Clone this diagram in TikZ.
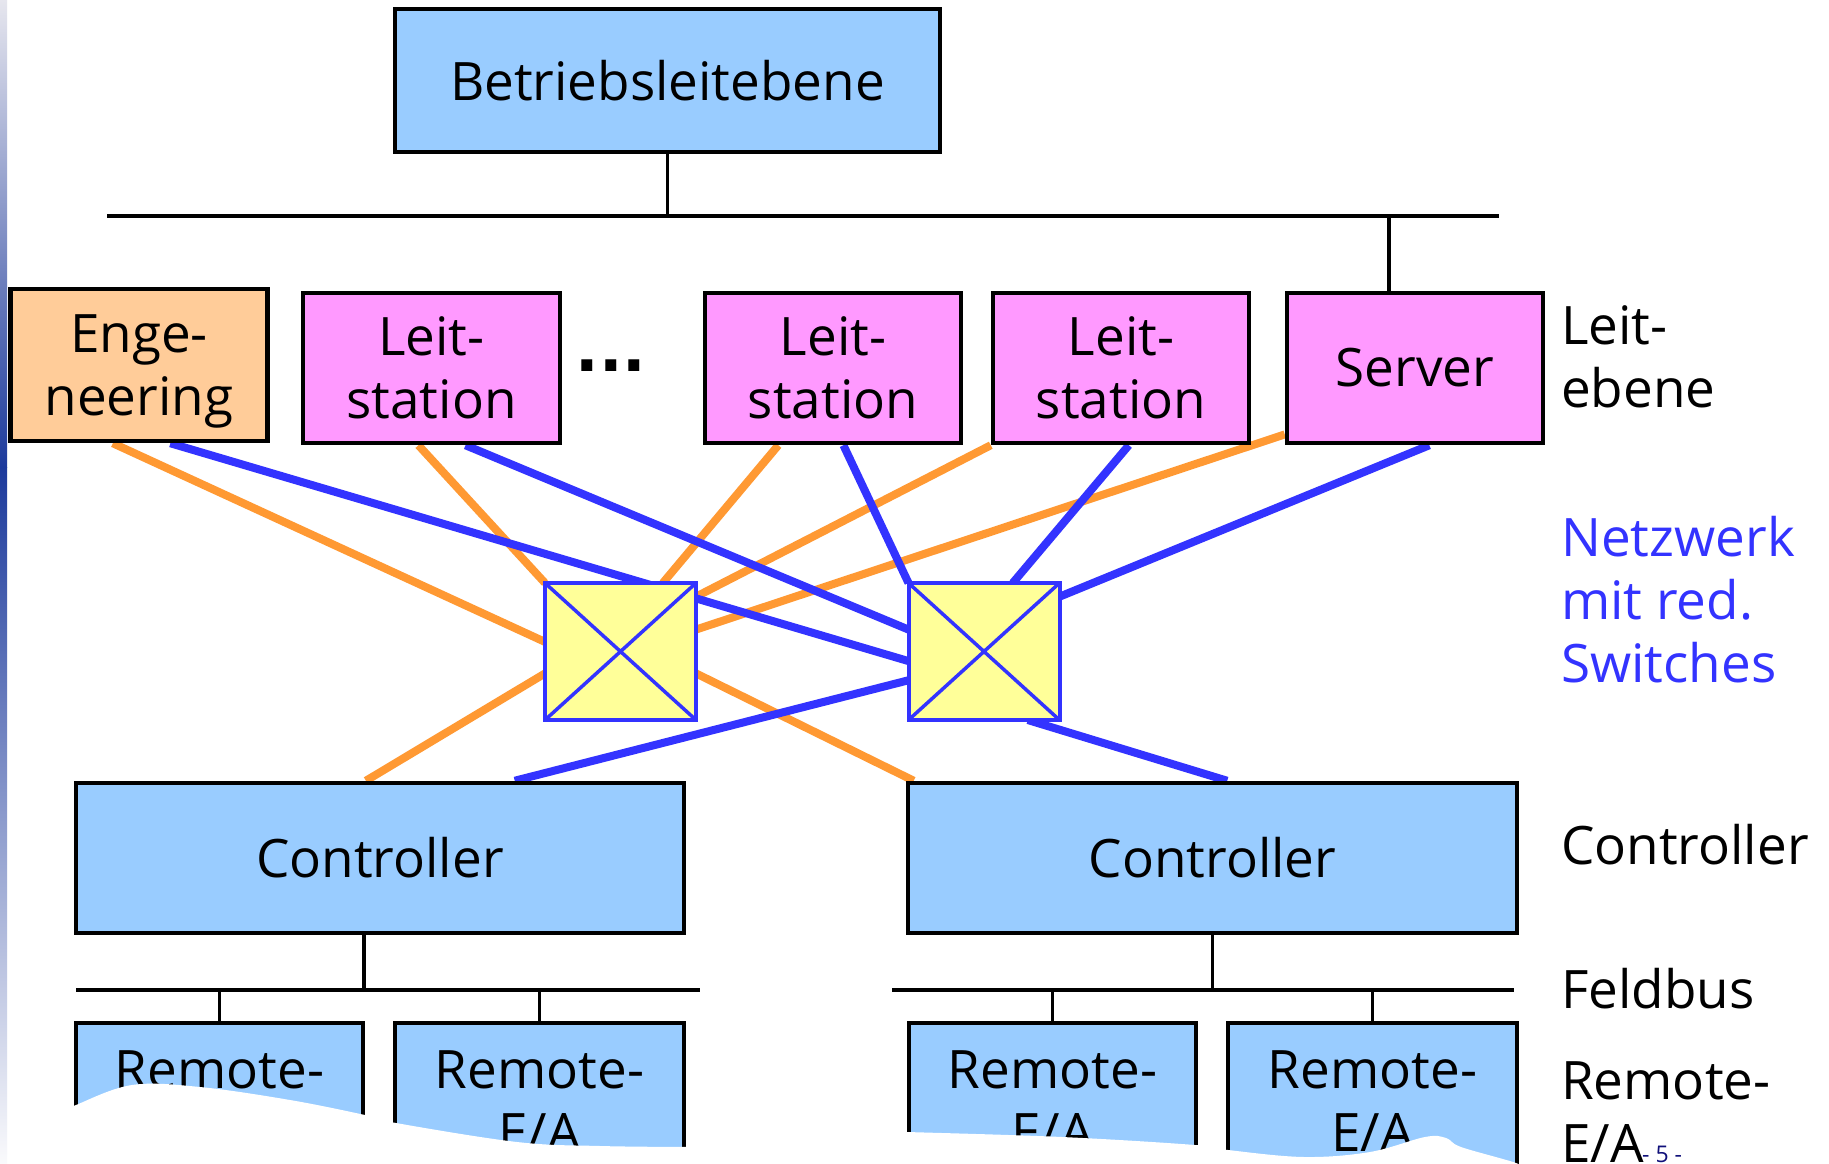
\documentclass[tikz,border=0pt]{standalone}
\usepackage{fontspec}
\setmainfont{Open Sans}
\newfontfamily\dotfont{DejaVu Sans}
\usetikzlibrary{calc,backgrounds}
\pgfdeclarelayer{bottom}
\pgfsetlayers{bottom,background,main}
\definecolor{lblue}{HTML}{99CCFF}
\definecolor{peach}{HTML}{FFCC99}
\definecolor{pink}{HTML}{FF99FF}
\definecolor{swyellow}{HTML}{FFFF99}
\definecolor{swblue}{HTML}{3333FF}
\definecolor{lorange}{HTML}{FF9933}
\definecolor{lineblue}{HTML}{3333FF}
\definecolor{navy}{HTML}{10107A}
\definecolor{stripdark}{HTML}{1C3A9C}
\definecolor{striptop}{HTML}{E6E6EE}
\definecolor{stripbot}{HTML}{FAFAFC}
\begin{document}
\begin{tikzpicture}[x=1pt,y=-1pt,
  big/.style={font=\fontsize{53}{63}\selectfont},
  box/.style={big,draw=black,line width=4.5pt,inner sep=0pt,align=center},
  sw/.style={draw=swblue,fill=swyellow,line width=4pt,inner sep=0pt,outer sep=0pt,minimum width=151pt,minimum height=137pt},
  swx/.style={draw=swblue,line width=3.5pt},
  lab/.style={big,anchor=west,align=left,inner sep=0pt},
  oline/.style={draw=lorange,line width=8pt},
  bline/.style={draw=lineblue,line width=8pt},
  bus/.style={draw=black,line width=3.4pt}]
\useasboundingbox (0,0) rectangle (1829,1164);
\begin{pgfonlayer}{bottom}
\fill[white] (0,0) rectangle (1829,1164);
% left gradient strip
\shade[top color=striptop,bottom color=stripdark] (0,0) rectangle (7,467);
\shade[top color=stripdark,bottom color=stripbot] (0,467) rectangle (7,1164);
\end{pgfonlayer}

% top level
\node[box,fill=lblue,minimum width=545pt,minimum height=143pt] (top) at (667.5,80.5) {Betriebsleitebene};
\coordinate (busL) at (107,216);
\coordinate (busR) at (1499,216);
\draw[bus] (busL) -- (busR);
\draw[bus] (top.south) -- (top.south |- busL);

% Leitebene
\node[box,fill=peach,minimum width=257pt,minimum height=152pt] (eng) at (139,365) {Enge-\\\smash{neering}};
\node[box,fill=pink,minimum width=257pt,minimum height=150pt] (l1) at (431.5,368) {Leit-\\station};
\node[box,fill=pink,minimum width=256pt,minimum height=150pt] (l2) at (833,368) {Leit-\\station};
\node[box,fill=pink,minimum width=256pt,minimum height=150pt] (l3) at (1121,368) {Leit-\\station};
\node[box,fill=pink,minimum width=256pt,minimum height=150pt] (srv) at (1415,368) {Server};
\node[font=\fontsize{62}{70}\selectfont\dotfont\bfseries,inner sep=0pt] (dots) at (611,366) {...};
\coordinate (srvtop) at ($(srv.north west)!0.4!(srv.north east)$);
\draw[bus] (srvtop) -- (srvtop |- busL);

% switches
\node[sw] (ls) at (620.5,651.5) {};
\node[sw] (rs) at (984,651.5) {};
\draw[swx] (ls.north west) -- (ls.south east) (ls.north east) -- (ls.south west);
\draw[swx] (rs.north west) -- (rs.south east) (rs.north east) -- (rs.south west);

% controllers
\node[box,fill=lblue,minimum width=608pt,minimum height=150pt] (cl) at (380,858) {Controller};
\node[box,fill=lblue,minimum width=609pt,minimum height=150pt] (cr) at (1212.5,858) {Controller};

% field bus
\coordinate (fbL1) at (76,990);
\coordinate (fbL2) at (700,990);
\coordinate (fbR1) at (892,990);
\coordinate (fbR2) at (1514,990);
\draw[bus] (fbL1) -- (fbL2);
\draw[bus] (fbR1) -- (fbR2);
\coordinate (cltap) at ($(cl.south west)!0.474!(cl.south east)$);
\draw[bus] (cltap) -- (cltap |- fbL1);
\draw[bus] (cr.south) -- (cr.south |- fbR1);

% remote I/O
\node[box,fill=lblue,minimum width=287pt,minimum height=157pt] (r1) at (219.5,1101.5) {Remote-\\E/A};
\node[box,fill=lblue,minimum width=289pt,minimum height=157pt] (r2) at (539.5,1101.5) {Remote-\\E/A};
\node[box,fill=lblue,minimum width=287pt,minimum height=157pt] (r3) at (1052.5,1101.5) {Remote-\\E/A};
\node[box,fill=lblue,minimum width=289pt,minimum height=157pt] (r4) at (1372.5,1101.5) {Remote-\\E/A};
\foreach \r/\b in {r1/fbL1,r2/fbL1,r3/fbR1,r4/fbR1} {
  \draw[bus] (\r.north) -- (\r.north |- \b);
}

% network connectors
\begin{pgfonlayer}{background}
\draw[oline] ($(eng.south west)!0.40!(eng.south east)$) -- ($(ls.north west)!0.43!(ls.south west)$);
\draw[oline] ($(l1.south west)!0.45!(l1.south east)$) -- (ls.north west);
\draw[oline] ($(l2.south west)!0.29!(l2.south east)$) -- ($(ls.north west)!0.78!(ls.north east)$);
\draw[oline] (l3.south west) -- ($(ls.north east)!0.10!(ls.south east)$);
\draw[oline] ($(srv.north west)!0.93!(srv.south west)$) -- ($(ls.north east)!0.34!(ls.south east)$);
\draw[oline] ($(ls.north west)!0.66!(ls.south west)$) -- ($(cl.north west)!0.477!(cl.north east)$);
\draw[oline] ($(ls.north east)!0.66!(ls.south east)$) -- ($(cr.north west)!0.013!(cr.north east)$);

\draw[bline] ($(eng.south west)!0.62!(eng.south east)$) -- ($(rs.north west)!0.57!(rs.south west)$);
\draw[bline] ($(l1.south west)!0.63!(l1.south east)$) -- ($(rs.north west)!0.34!(rs.south west)$);
\draw[bline] ($(l2.south west)!0.54!(l2.south east)$) -- (rs.north west);
\draw[bline] ($(l3.south west)!0.53!(l3.south east)$) -- ($(rs.north west)!0.69!(rs.north east)$);
\draw[bline] ($(srv.south west)!0.555!(srv.south east)$) -- ($(rs.north east)!0.10!(rs.south east)$);
\draw[bline] ($(rs.north west)!0.71!(rs.south west)$) -- ($(cl.north west)!0.72!(cl.north east)$);
\draw[bline] ($(rs.south west)!0.79!(rs.south east)$) -- ($(cr.north west)!0.524!(cr.north east)$);
\end{pgfonlayer}

% right-hand labels
\node[lab] (lleit) at (1561,357) {Leit-\\ebene};
\node[lab,text=lineblue] (lnet) at (1561,600) {Netzwerk\\mit red.\\Switches};
\node[lab] (lctrl) at (1561,845) {Controller};
\node[lab] (lfeld) at (1561,989) {Feldbus};
\node[lab] (lrem) at (1561,1112) {Remote-\\E/A};

% torn-off bottom
\fill[white] plot[smooth,tension=0.6] coordinates {(70,1109) (76,1105) (132,1085) (200,1087) (290,1100) (365,1115) (396,1123) (517,1142) (600,1146) (690,1147)} -- (700,1175) -- (70,1175) -- cycle;
\fill[white] plot[smooth,tension=0.6] coordinates {(900,1132) (907,1132) (1062,1137) (1195,1145) (1228,1150) (1304,1157) (1370,1152) (1425,1137) (1446,1138) (1461,1147) (1516,1163) (1525,1170)} -- (1525,1180) -- (900,1180) -- cycle;

\node[font=\fontsize{23}{26}\selectfont,text=navy,anchor=base west,inner sep=0pt] (pg) at (1642,1162) {- 5 -};
\end{tikzpicture}
\end{document}
